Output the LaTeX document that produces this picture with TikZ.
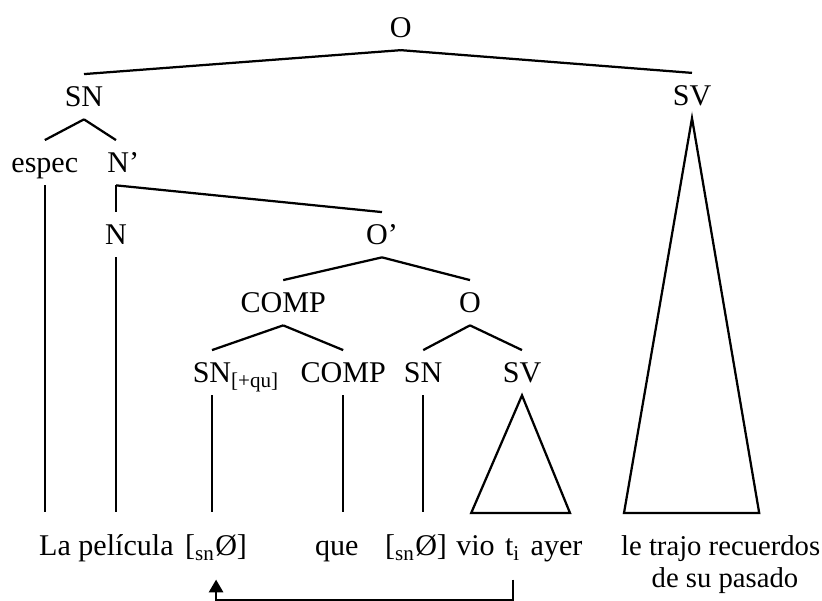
\documentclass[tikz,border=0pt]{standalone}
\usepackage{fontspec}
\setmainfont{Liberation Serif}
\usetikzlibrary{arrows.meta}

\begin{document}
\begin{tikzpicture}[line width=0.8pt,
    font=\fontsize{10.7}{12.8}\selectfont,
    cat/.style={anchor=base,inner sep=4pt,text height=7.3pt,text depth=0pt},
    leaf/.style={anchor=base west,inner xsep=0pt,inner ysep=8pt,text height=7.3pt,text depth=0pt}]
  \useasboundingbox (0,0) rectangle (10.275,7.5125);
  % categories
  \node[cat] (o) at (5.01,7.04) {O};
  \node[cat] (sn) at (1.05,6.175) {SN};
  \node[cat] (sv) at (8.65,6.19) {SV};
  \node[cat] (espec) at (0.56,5.35) {espec};
  \node[cat] (nbar) at (1.54,5.35) {N’};
  \node[cat] (n) at (1.45,4.45) {N};
  \node[cat] (obar) at (4.775,4.45) {O’};
  \node[cat] (comp) at (3.54,3.6) {COMP};
  \node[cat] (osub) at (5.875,3.6) {O};
  \node[cat] (snqu) at (2.65,2.725) {SN\rlap{\textsubscript{[+qu]}}};
  \node[cat] (compb) at (4.29,2.725) {COMP};
  \node[cat] (snsub) at (5.29,2.725) {SN};
  \node[cat] (svsub) at (6.525,2.725) {SV};
  % words
  \node[leaf] (lapel) at (0.475,0.5625) {La película};
  \node[leaf] (nullA) at (2.3,0.5625) {[\textsubscript{sn}Ø]};
  \node[leaf] (que) at (3.925,0.5625) {que};
  \node[leaf] (nullB) at (4.8,0.5625) {[\textsubscript{sn}Ø]};
  \node[leaf] (vio) at (5.69,0.5625) {vio};
  \node[leaf] (ti) at (6.3,0.5625) {t\textsubscript{i}};
  \node[leaf] (ayer) at (6.62,0.5625) {ayer};
  \node[leaf,font=\fontsize{10.2}{12}\selectfont] (trajo) at (7.75,0.5625) {le trajo recuerdos};
  \node[leaf,anchor=base,font=\fontsize{10.2}{12}\selectfont] (pasado) at (9.0625,0.1625) {de su pasado};
  \coordinate (floor) at (0,0.008);
  % branches
  \draw (o.south) -- (sn.north);
  \draw (o.south) -- (sv.north);
  \draw (sn.south) -- (espec.north);
  \draw (sn.south) -- (nbar.north -| n.north);
  \draw (nbar.south -| n.north) -- (n.north);
  \draw (nbar.south -| n.north) -- (obar.north);
  \draw (obar.south) -- (comp.north);
  \draw (obar.south) -- (osub.north);
  \draw (comp.south) -- (snqu.north);
  \draw (comp.south) -- (compb.north);
  \draw (osub.south) -- (snsub.north);
  \draw (osub.south) -- (svsub.north);
  % straight down to the words
  \draw (espec.south) -- (espec.south |- lapel.north);
  \draw (n.south) -- (n.south |- lapel.north);
  \draw (snqu.south) -- (snqu.south |- nullA.north);
  \draw (compb.south) -- (compb.south |- que.north);
  \draw (snsub.south) -- (snsub.south |- nullB.north);
  % triangles
  \draw (svsub.south) -- (5.89,1.1) -- (7.125,1.1) -- cycle;
  \draw (sv.south) -- (7.8,1.1) -- (9.49,1.1) -- cycle;
  % trace of the moved SN
  \draw[-{Triangle[width=5pt,length=4.5pt]}] (ti.south) -- (ti.south |- floor)
    -- (nullA.south |- floor) -- (nullA.south);
\end{tikzpicture}
\end{document}
